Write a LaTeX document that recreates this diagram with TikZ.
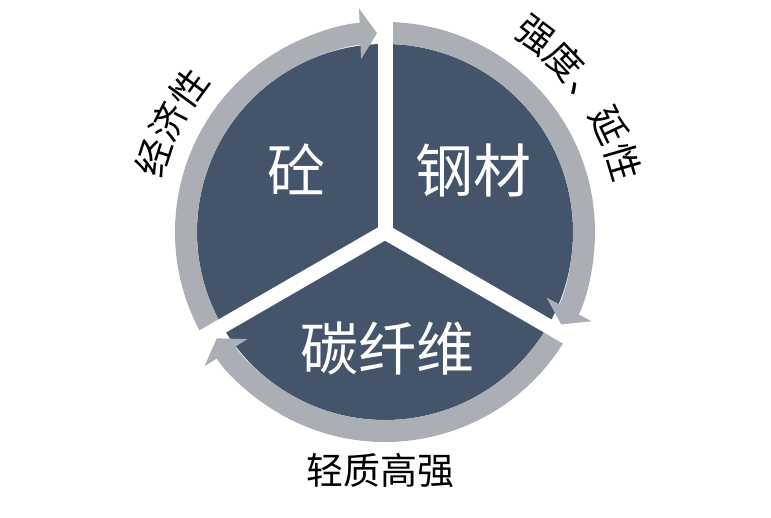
\documentclass[tikz,border=0pt]{standalone}
\usepackage{fontspec}
\newfontfamily\cjk{Noto Sans CJK SC}
\usetikzlibrary{arrows.meta,decorations.text}

\definecolor{slate}{RGB}{68,84,106}
\definecolor{ringgray}{RGB}{171,174,181}
\newcommand\bigcjk{\cjk\fontsize{58pt}{58pt}\selectfont}
\newcommand\labcjk{\cjk\fontsize{37pt}{37pt}\selectfont}

\begin{document}
\begin{tikzpicture}[x=1pt, y=1pt,
  ring/.style={ringgray, line width=22pt, -{Triangle[width=50pt,length=17pt]}},
  gap/.style={white, line width=15pt},
  sector/.style={white, font=\bigcjk},
  tag/.style={black, font=\labcjk}]

  \useasboundingbox (0,0) rectangle (771,518);
  \coordinate (o) at (385,286);

  %% Disc
  \fill[slate] (o) circle (188);

  %% Grey ring, one arrow per sector (clockwise)
  \draw[ring] ([shift={(210:199)}]o) arc[start angle=210, end angle=92.3, radius=199];
  \draw[ring] ([shift={(90:199)}]o) arc[start angle=90, end angle=-27.7, radius=199];
  \draw[ring] ([shift={(-30:199)}]o) arc[start angle=-30, end angle=-147.7, radius=199];

  %% White gaps
  \foreach \a in {90,-30,210}
    \draw[gap] (o) -- ++(\a:240);

  %% Sector texts
  \node[sector] (tong)  at ([shift={(-89,63)}]o) {砼};
  \node[sector] (gang)  at ([shift={(88,62)}]o) {钢材};
  \node[sector] (tan)   at ([shift={(2,-116)}]o) {碳纤维};

  %% Outside labels
  \path[decorate, decoration={text along path, text align=center, text={|\labcjk|经济性}}]
    ([shift={(180:229)}]o) arc[start angle=180, end angle=126, radius=229];
  \path[decorate, decoration={text along path, text align=center, text={|\labcjk|强度、延性}}]
    ([shift={(75:234)}]o) arc[start angle=75, end angle=-6, radius=234];
  \node[tag] (qing) at (380,47) {轻质高强};

\end{tikzpicture}
\end{document}
